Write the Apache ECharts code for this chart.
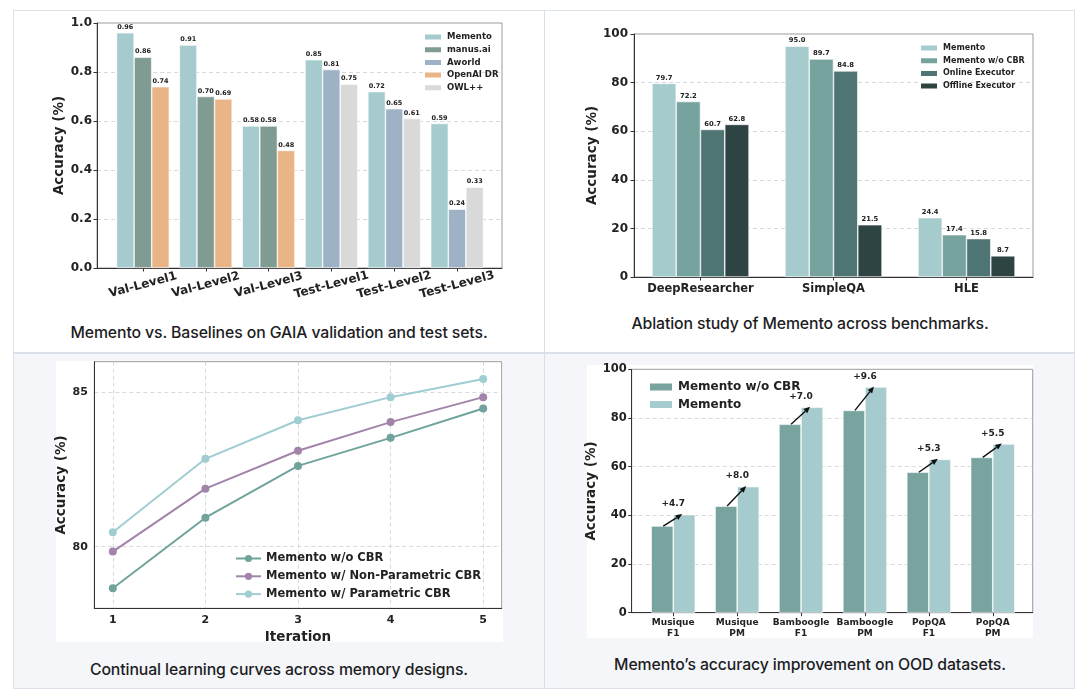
<!DOCTYPE html>
<html>
<head>
<meta charset="utf-8">
<script src="https://cdn.jsdelivr.net/npm/echarts@6/dist/echarts.min.js"></script>
<style>
  html, body { margin:0; padding:0; width:1080px; height:697px; background:#ffffff; overflow:hidden; }
  .cell { position:absolute; box-sizing:border-box; }
  .cap { position:absolute; text-align:center; font-family:"Inter","Noto Sans",sans-serif; font-size:15.8px; font-weight:500; color:#1d1d1f; white-space:nowrap; letter-spacing:-0.1px; }
  #chart { position:absolute; left:0; top:0; width:1080px; height:697px; }
</style>
</head>
<body>
<!-- table frame -->
<div class="cell" style="left:13px;top:10px;width:1062px;height:679px;border:1.5px solid #dbe2ea;"></div>
<div class="cell" style="left:14px;top:353px;width:1060px;height:335px;background:#f4f6f9;"></div>
<div class="cell" style="left:13px;top:352px;width:1062px;height:2px;background:#d9e0e8;"></div>
<div class="cell" style="left:543.5px;top:10px;width:1.5px;height:679px;background:#d6dee7;"></div>
<!-- white image backgrounds in bottom row -->
<div class="cell" style="left:56px;top:361px;width:447px;height:281px;background:#ffffff;"></div>
<div class="cell" style="left:587px;top:365px;width:446px;height:273px;background:#ffffff;"></div>
<!-- captions -->
<div class="cap" style="left:14px;width:530px;top:323px;">Memento vs. Baselines on GAIA validation and test sets.</div>
<div class="cap" style="left:545px;width:530px;top:314px;">Ablation study of Memento across benchmarks.</div>
<div class="cap" style="left:14px;width:530px;top:660px;">Continual learning curves across memory designs.</div>
<div class="cap" style="left:545px;width:530px;top:655px;">Memento’s accuracy improvement on OOD datasets.</div>
<div id="chart"></div>
<script>
// ---------------- DATA ----------------
var gaiaCategories = ['Val-Level1','Val-Level2','Val-Level3','Test-Level1','Test-Level2','Test-Level3'];
var gaiaMemento = [0.96, 0.91, 0.58, 0.85, 0.72, 0.59];
var gaiaManus   = [0.86, 0.70, 0.58, null, null, null];
var gaiaAworld  = [null, null, null, 0.81, 0.65, 0.24];
var gaiaOpenAI  = [0.74, 0.69, 0.48, null, null, null];
var gaiaOWL     = [null, null, null, 0.75, 0.61, 0.33];
var gaiaTicks   = [0, 0.2, 0.4, 0.6, 0.8, 1.0];

var ablationCategories = ['DeepResearcher','SimpleQA','HLE'];
var ablMemento  = [79.7, 95.0, 24.4];
var ablNoCBR    = [72.2, 89.7, 17.4];
var ablOnline   = [60.7, 84.8, 15.8];
var ablOffline  = [62.8, 21.5, 8.7];

var iterations     = [1, 2, 3, 4, 5];
var curveNoCBR     = [78.65, 80.94, 82.62, 83.53, 84.48];
var curveNonParam  = [79.84, 81.88, 83.11, 84.04, 84.85];
var curveParam     = [80.47, 82.85, 84.10, 84.85, 85.44];
var curveYLabels   = [80, 85];

var oodCategories = ['Musique\nF1','Musique\nPM','Bamboogle\nF1','Bamboogle\nPM','PopQA\nF1','PopQA\nPM'];
var oodNoCBR   = [35.6, 43.8, 77.4, 83.1, 57.7, 63.8];
var oodMemento = [40.3, 51.8, 84.4, 92.7, 63.0, 69.3];
var oodGain    = ['+4.7', '+8.0', '+7.0', '+9.6', '+5.3', '+5.5'];

// ---------------- STYLE ----------------
var FF = '"DejaVu Sans", sans-serif';
var TXT = '#222222';
var FRAME = '#9a9a9a';
var AXIS = '#333333';
var GRIDLINE = { show: true, showMinLine: false, showMaxLine: false, lineStyle: { color: '#cfcfcf', type: [4, 3], width: 0.8 } };

function hiddenValueAxis(grid, min, max, bottomLine) {
  return { type: 'value', gridIndex: grid, min: min, max: max,
    axisLine: { show: !!bottomLine, lineStyle: { color: AXIS, width: 1 } },
    axisTick: { show: false }, axisLabel: { show: false }, splitLine: { show: false } };
}
function yName(gap) {
  return { name: 'Accuracy (%)', nameLocation: 'middle', nameGap: gap,
    nameTextStyle: { fontFamily: FF, fontWeight: 'bold', fontSize: 13.5, color: TXT } };
}
function barLabel(digits, size) {
  return { show: true, position: 'top', distance: 2, fontFamily: FF, fontWeight: 'bold', fontSize: size, color: TXT,
    formatter: function (p) { return p.value == null ? '' : Number(p.value).toFixed(digits); } };
}

var chart = echarts.init(document.getElementById('chart'), null, { renderer: 'canvas' });

var option = {
  animation: false,
  backgroundColor: 'transparent',
  grid: [
    { left: 97,    top: 23,    width: 405,   height: 245,   show: true, borderColor: FRAME, borderWidth: 1 }, // 0 TL frame
    { left: 111.5, top: 23,    width: 377,   height: 245 },                                                  // 1 TL data
    { left: 634,   top: 34,    width: 399,   height: 243,   show: true, borderColor: FRAME, borderWidth: 1 }, // 2 TR
    { left: 94.3,  top: 361.7, width: 407.4, height: 246.6, show: true, borderColor: FRAME, borderWidth: 1 }, // 3 BL
    { left: 631.7, top: 369.3, width: 401,   height: 243.4, show: true, borderColor: FRAME, borderWidth: 1 }, // 4 BR frame
    { left: 641.3, top: 369.3, width: 383.4, height: 243.4 }                                                  // 5 BR data
  ],
  xAxis: [
    hiddenValueAxis(0, 0, 1, true),
    { type: 'category', gridIndex: 1, data: gaiaCategories,
      axisLine: { show: false }, axisTick: { show: true, alignWithLabel: true, length: 3.5, lineStyle: { color: AXIS } },
      axisLabel: { rotate: 15, align: 'center', verticalAlign: 'middle', margin: 17, fontFamily: FF, fontWeight: 'bold', fontSize: 12, color: TXT, interval: 0 } },
    { type: 'category', gridIndex: 2, data: ablationCategories,
      axisLine: { show: true, lineStyle: { color: AXIS } }, axisTick: { show: true, alignWithLabel: true, length: 3.5, lineStyle: { color: AXIS } },
      axisLabel: { margin: 6, fontFamily: FF, fontWeight: 'bold', fontSize: 11.5, color: TXT, interval: 0, hideOverlap: false } },
    { type: 'value', gridIndex: 3, min: 0.8, max: 5.2,
      name: 'Iteration', nameLocation: 'middle', nameGap: 22, nameTextStyle: { fontFamily: FF, fontWeight: 'bold', fontSize: 13.5, color: TXT },
      axisLine: { show: true, lineStyle: { color: AXIS } }, axisTick: { show: false },
      axisLabel: { margin: 6, fontFamily: FF, fontWeight: 'bold', fontSize: 11, color: TXT, showMinLabel: false, showMaxLabel: false,
        formatter: function (v) { return Math.abs(v - Math.round(v)) < 1e-6 ? String(Math.round(v)) : ''; } },
      splitLine: GRIDLINE },
    hiddenValueAxis(4, 0, 1, true),
    { type: 'category', gridIndex: 5, data: oodCategories,
      axisLine: { show: false }, axisTick: { show: true, alignWithLabel: true, length: 3.5, lineStyle: { color: AXIS } },
      axisLabel: { margin: 5, fontFamily: FF, fontWeight: 'bold', fontSize: 9, lineHeight: 10.5, color: TXT, interval: 0 } }
  ],
  yAxis: [
    Object.assign({ type: 'value', gridIndex: 0, min: gaiaTicks[0], max: gaiaTicks[gaiaTicks.length - 1], interval: 0.2,
      axisLine: { show: true, lineStyle: { color: AXIS } }, axisTick: { show: true, length: 3.5, lineStyle: { color: AXIS } },
      axisLabel: { margin: 5, fontFamily: FF, fontWeight: 'bold', fontSize: 12, color: TXT, formatter: function (v) { return v.toFixed(1); } },
      splitLine: GRIDLINE }, yName(28)),
    hiddenValueAxis(1, 0, 1, false),
    Object.assign({ type: 'value', gridIndex: 2, min: 0, max: 100, interval: 20,
      axisLine: { show: true, lineStyle: { color: AXIS } }, axisTick: { show: true, length: 3.5, lineStyle: { color: AXIS } },
      axisLabel: { margin: 6, fontFamily: FF, fontWeight: 'bold', fontSize: 12, color: TXT },
      splitLine: GRIDLINE }, yName(35)),
    Object.assign({ type: 'value', gridIndex: 3, min: 78, max: 86, interval: 1,
      axisLine: { show: true, lineStyle: { color: AXIS } }, axisTick: { show: false },
      axisLabel: { margin: 6.5, fontFamily: FF, fontWeight: 'bold', fontSize: 11, color: TXT,
        formatter: function (v) { return curveYLabels.indexOf(v) >= 0 ? String(v) : ''; } },
      splitLine: { show: true, lineStyle: { color: ['rgba(0,0,0,0)', 'rgba(0,0,0,0)', '#cfcfcf', 'rgba(0,0,0,0)', 'rgba(0,0,0,0)'], type: [4, 3], width: 0.8 } } }, yName(26)),
    Object.assign({ type: 'value', gridIndex: 4, min: 0, max: 100, interval: 20,
      axisLine: { show: true, lineStyle: { color: AXIS } }, axisTick: { show: true, length: 3.5, lineStyle: { color: AXIS } },
      axisLabel: { margin: 5, fontFamily: FF, fontWeight: 'bold', fontSize: 11.5, color: TXT },
      splitLine: GRIDLINE }, yName(33)),
    hiddenValueAxis(5, 0, 100, false)
  ],
  legend: [
    { data: ['Memento','manus.ai','Aworld','OpenAI DR','OWL++'], orient: 'vertical', left: 418, top: 27.5,
      icon: 'rect', itemWidth: 18, itemHeight: 7, itemGap: 3.7,
      textStyle: { fontFamily: FF, fontWeight: 'bold', fontSize: 8.5, lineHeight: 9, color: TXT } },
    { data: ['Memento ', 'Memento w/o CBR', 'Online Executor', 'Offline Executor'], orient: 'vertical', left: 914, top: 38.5,
      icon: 'rect', itemWidth: 18, itemHeight: 7, itemGap: 3.7,
      textStyle: { fontFamily: FF, fontWeight: 'bold', fontSize: 8, lineHeight: 9, color: TXT } },
    { data: ['Memento w/o CBR ', 'Memento w/ Non-Parametric CBR', 'Memento w/ Parametric CBR'], orient: 'vertical', left: 230, top: 547,
      itemWidth: 25, itemHeight: 9, itemGap: 4.8,
      textStyle: { fontFamily: FF, fontWeight: 'bold', fontSize: 11.5, lineHeight: 13, color: TXT } },
    { data: ['Memento w/o CBR  ', 'Memento  '], orient: 'vertical', left: 643, top: 375,
      icon: 'rect', itemWidth: 24, itemHeight: 9, itemGap: 3.4,
      textStyle: { fontFamily: FF, fontWeight: 'bold', fontSize: 12, lineHeight: 14, color: TXT } }
  ],
  series: [
    // ---- GAIA (top-left) ----
    { name: 'Memento', type: 'bar', xAxisIndex: 1, yAxisIndex: 1, stack: 's1', data: gaiaMemento,
      barCategoryGap: '16%', barGap: '0%', itemStyle: { color: '#a5cbce', borderColor: '#fff', borderWidth: 0.6 }, label: barLabel(2, 6.5) },
    { name: 'manus.ai', type: 'bar', xAxisIndex: 1, yAxisIndex: 1, stack: 's2', data: gaiaManus,
      itemStyle: { color: '#7f9b92', borderColor: '#fff', borderWidth: 0.6 }, label: barLabel(2, 6.5) },
    { name: 'Aworld', type: 'bar', xAxisIndex: 1, yAxisIndex: 1, stack: 's2', data: gaiaAworld,
      itemStyle: { color: '#9eb2c6', borderColor: '#fff', borderWidth: 0.6 }, label: barLabel(2, 6.5) },
    { name: 'OpenAI DR', type: 'bar', xAxisIndex: 1, yAxisIndex: 1, stack: 's3', data: gaiaOpenAI,
      itemStyle: { color: '#e9b587', borderColor: '#fff', borderWidth: 0.6 }, label: barLabel(2, 6.5) },
    { name: 'OWL++', type: 'bar', xAxisIndex: 1, yAxisIndex: 1, stack: 's3', data: gaiaOWL,
      itemStyle: { color: '#d9d9d9', borderColor: '#fff', borderWidth: 0.6 }, label: barLabel(2, 6.5) },
    // ---- Ablation (top-right) ----
    { name: 'Memento ', type: 'bar', xAxisIndex: 2, yAxisIndex: 2, data: ablMemento, barCategoryGap: '27%', barGap: '0%',
      itemStyle: { color: '#a5cbcd', borderColor: '#fff', borderWidth: 0.6 }, label: barLabel(1, 6.8) },
    { name: 'Memento w/o CBR', type: 'bar', xAxisIndex: 2, yAxisIndex: 2, data: ablNoCBR,
      itemStyle: { color: '#77a39f', borderColor: '#fff', borderWidth: 0.6 }, label: barLabel(1, 6.8) },
    { name: 'Online Executor', type: 'bar', xAxisIndex: 2, yAxisIndex: 2, data: ablOnline,
      itemStyle: { color: '#4e7473', borderColor: '#fff', borderWidth: 0.6 }, label: barLabel(1, 6.8) },
    { name: 'Offline Executor', type: 'bar', xAxisIndex: 2, yAxisIndex: 2, data: ablOffline,
      itemStyle: { color: '#2e4443', borderColor: '#fff', borderWidth: 0.6 }, label: barLabel(1, 6.8) },
    // ---- Curves (bottom-left) ----
    { name: 'Memento w/o CBR ', type: 'line', xAxisIndex: 3, yAxisIndex: 3,
      data: iterations.map(function (x, i) { return [x, curveNoCBR[i]]; }),
      symbol: 'circle', symbolSize: 8, lineStyle: { width: 2, color: '#6fa39b' }, itemStyle: { color: '#6fa39b' } },
    { name: 'Memento w/ Non-Parametric CBR', type: 'line', xAxisIndex: 3, yAxisIndex: 3,
      data: iterations.map(function (x, i) { return [x, curveNonParam[i]]; }),
      symbol: 'circle', symbolSize: 8, lineStyle: { width: 2, color: '#a283aa' }, itemStyle: { color: '#a283aa' } },
    { name: 'Memento w/ Parametric CBR', type: 'line', xAxisIndex: 3, yAxisIndex: 3,
      data: iterations.map(function (x, i) { return [x, curveParam[i]]; }),
      symbol: 'circle', symbolSize: 8, lineStyle: { width: 2, color: '#9fcdd1' }, itemStyle: { color: '#9fcdd1' } },
    // ---- OOD (bottom-right) ----
    { name: 'Memento w/o CBR  ', type: 'bar', xAxisIndex: 5, yAxisIndex: 5, data: oodNoCBR, barCategoryGap: '31%', barGap: '0%',
      itemStyle: { color: '#78a39f', borderColor: '#fff', borderWidth: 0.6 } },
    { name: 'Memento  ', type: 'bar', xAxisIndex: 5, yAxisIndex: 5, data: oodMemento,
      itemStyle: { color: '#a5cbcf', borderColor: '#fff', borderWidth: 0.6 } },
    { name: 'gain', type: 'custom', xAxisIndex: 5, yAxisIndex: 5, z: 10,
      data: oodCategories.map(function (c, i) { return [i, oodNoCBR[i], oodMemento[i]]; }),
      encode: { x: 0, y: [1, 2] },
      renderItem: function (params, api) {
        var idx = api.value(0);
        var pA = api.coord([idx, api.value(1)]);
        var pB = api.coord([idx, api.value(2)]);
        var band = api.size([1, 0])[0];
        var barW = band * (1 - 0.31) / 2;
        var sx = pA[0] - barW / 2 + 1, sy = pA[1];
        var ex = pA[0] + barW / 2 - 2, ey = pB[1] - 0.5;
        var ang = Math.atan2(ey - sy, ex - sx);
        var hl = 6.5, hw = 2.8;
        var bx = ex - hl * Math.cos(ang), by = ey - hl * Math.sin(ang);
        var nx = Math.sin(ang), ny = -Math.cos(ang);
        return { type: 'group', children: [
          { type: 'line', shape: { x1: sx, y1: sy, x2: bx, y2: by }, style: { stroke: '#111', lineWidth: 1.4 } },
          { type: 'polygon', shape: { points: [[ex, ey], [bx + hw * nx, by + hw * ny], [bx - hw * nx, by - hw * ny]] }, style: { fill: '#111' } },
          { type: 'text', style: { text: oodGain[params.dataIndex], x: pA[0], y: pB[1] - 10.5, align: 'center', verticalAlign: 'middle',
            fontFamily: 'DejaVu Sans', fontWeight: 'bold', fontSize: 9, fill: '#222' } }
        ] };
      } }
  ]
};
chart.setOption(option);
</script>
</body>
</html>
